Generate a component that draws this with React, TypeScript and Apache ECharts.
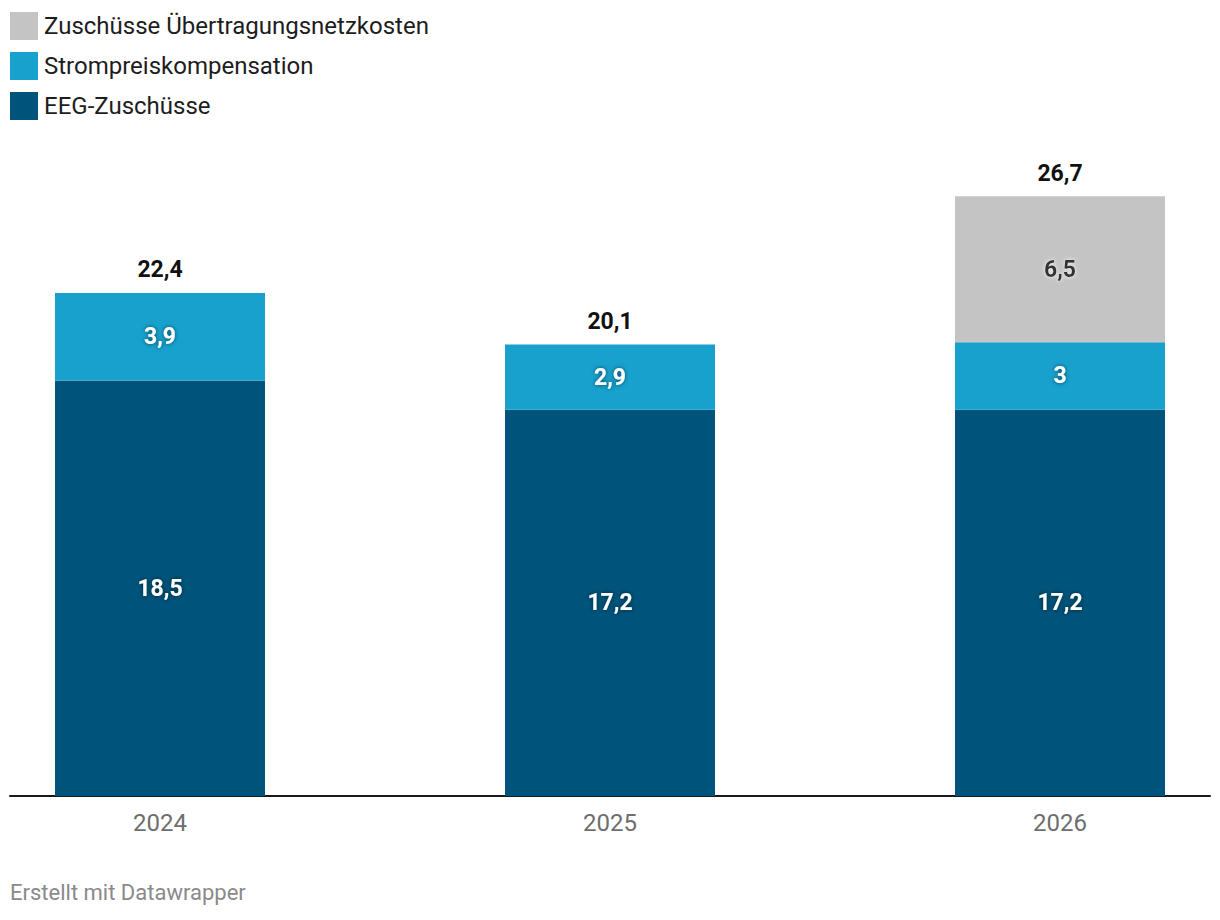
import React, { useEffect, useRef } from "react";
import * as echarts from "echarts";

const years = ["2024", "2025", "2026"];
const eeg = [18.5, 17.2, 17.2];
const strompreis = [3.9, 2.9, 3];
const uebertragung = [null, null, 6.5];
const totals = [22.4, 20.1, 26.7];

const fmt = (v: number) => String(v).replace(".", ",");

export default function App() {
  const ref = useRef<HTMLDivElement>(null);
  useEffect(() => {
    if (!ref.current) return;
    const chart = echarts.init(ref.current, null, { renderer: "svg" });
    const font = "Roboto, 'Noto Sans', sans-serif";
    const whiteLabel = {
      show: true,
      position: "inside",
      color: "#ffffff",
      fontFamily: font,
      fontWeight: "bold",
      fontSize: 23,
      textShadowColor: "rgba(0,0,0,0.6)",
      textShadowBlur: 4,
      formatter: (p: any) => fmt(p.value),
    };
    chart.setOption({
      animation: false,
      textStyle: { fontFamily: font },
      legend: {
        show: true,
        orient: "vertical",
        left: 10,
        top: 12,
        padding: 0,
        itemWidth: 28,
        itemHeight: 28,
        itemGap: 12,
        icon: "rect",
        data: ["Zuschüsse Übertragungsnetzkosten", "Strompreiskompensation", "EEG-Zuschüsse"],
        textStyle: { fontSize: 24, color: "#1d1d1d", fontFamily: font, padding: [0, 0, 0, 1] },
        selectedMode: false,
      },
      graphic: [
        {
          type: "text",
          left: 10,
          top: 881,
          style: { text: "Erstellt mit Datawrapper", fill: "#8a8a8a", fontSize: 22, fontFamily: font },
        },
      ],
      grid: [
        { left: 160, right: 160, top: 122.2, bottom: 124, containLabel: false },
        { left: 10, right: 10, top: 122.2, bottom: 124, containLabel: false },
      ],
      xAxis: [
        {
          type: "category",
          gridIndex: 0,
          data: years,
          boundaryGap: false,
          axisLine: { show: false },
          axisTick: { show: false },
          axisLabel: { color: "#6e6e6e", fontSize: 24, fontFamily: font, margin: 15 },
        },
        {
          type: "value",
          gridIndex: 1,
          min: 0,
          max: 1,
          axisLine: { show: true, lineStyle: { color: "#1a1a1a", width: 2 } },
          axisTick: { show: false },
          axisLabel: { show: false },
          splitLine: { show: false },
        },
      ],
      yAxis: [
        { type: "value", gridIndex: 0, min: 0, max: 30, show: false, splitLine: { show: false } },
        { type: "value", gridIndex: 1, min: 0, max: 1, show: false, splitLine: { show: false } },
      ],
      series: [
        {
          name: "EEG-Zuschüsse",
          type: "bar",
          stack: "total",
          data: eeg,
          barWidth: 210,
          clip: false,
          itemStyle: { color: "#00537a" },
          label: whiteLabel,
          z: 2,
        },
        {
          name: "Strompreiskompensation",
          type: "bar",
          stack: "total",
          data: strompreis,
          barWidth: 210,
          clip: false,
          itemStyle: { color: "#18a1cd" },
          label: whiteLabel,
          z: 2,
        },
        {
          name: "Zuschüsse Übertragungsnetzkosten",
          type: "bar",
          stack: "total",
          data: uebertragung,
          barWidth: 210,
          clip: false,
          itemStyle: { color: "#c4c4c4" },
          label: {
            ...whiteLabel,
            color: "#333333",
            textShadowColor: "rgba(255,255,255,0.9)",
            textShadowBlur: 4,
          },
          z: 2,
        },
        {
          name: "Summe",
          type: "scatter",
          data: totals,
          symbol: "circle",
          symbolSize: 1,
          itemStyle: { color: "rgba(255,255,255,0)", opacity: 1 },
          silent: true,
          clip: false,
          z: 5,
          label: {
            show: true,
            position: "top",
            distance: 11,
            color: "#111111",
            opacity: 1,
            fontWeight: "bold",
            fontSize: 23,
            fontFamily: font,
            formatter: (p: any) => fmt(p.value),
          },
        },
      ],
    });
    return () => chart.dispose();
  }, []);
  return (
    <div
      ref={ref}
      style={{ position: "fixed", left: 0, top: 0, width: 1220, height: 920, background: "#fff" }}
    />
  );
}
